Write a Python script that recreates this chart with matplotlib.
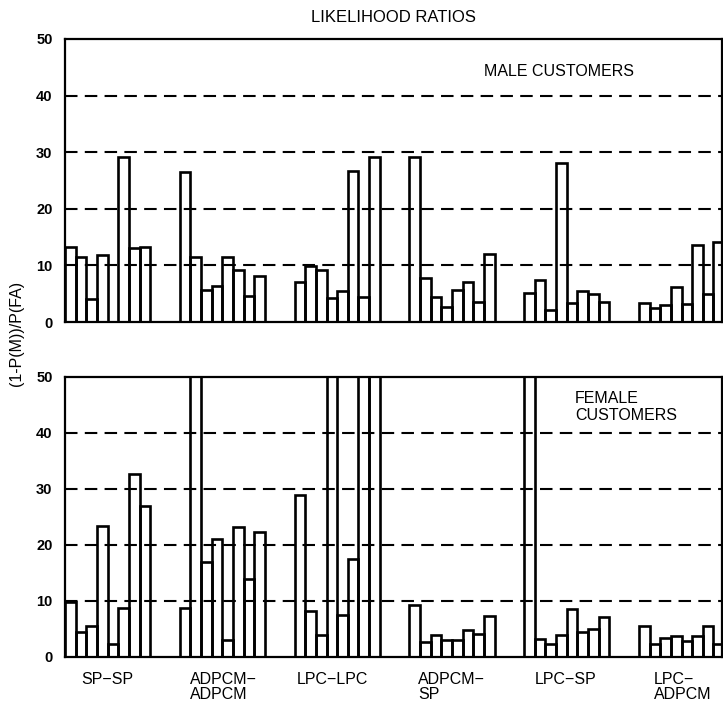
import matplotlib
matplotlib.use("Agg")
import matplotlib.pyplot as plt
import matplotlib.transforms as mtransforms

plt.rcParams['font.family'] = ['Liberation Sans', 'DejaVu Sans']

# Coder pairs (training-test), eight speakers each
pairs = ["SP\u2212SP", "ADPCM\u2212\nADPCM", "LPC\u2212LPC",
         "ADPCM\u2212\nSP", "LPC\u2212SP", "LPC\u2212\nADPCM"]

# (1-P(M))/P(FA) for male customers
male_sp_sp = [13.2, 11.5, 4.0, 11.8, 0.0, 29.1, 13.0, 13.3]
male_adpcm_adpcm = [26.5, 11.4, 5.6, 6.4, 11.4, 9.2, 4.6, 8.2]
male_lpc_lpc = [7.0, 9.9, 9.2, 4.3, 5.4, 26.7, 4.4, 29.1]
male_adpcm_sp = [29.1, 7.7, 4.4, 2.7, 5.7, 7.0, 3.6, 12.0]
male_lpc_sp = [5.2, 7.4, 2.1, 28.1, 3.3, 5.4, 5.0, 3.6]
male_lpc_adpcm = [3.3, 2.4, 3.0, 6.2, 3.1, 13.6, 5.0, 14.2]

# (1-P(M))/P(FA) for female customers (values above 50 run off the scale)
female_sp_sp = [9.9, 4.5, 5.6, 23.4, 2.4, 8.8, 32.6, 27.0]
female_adpcm_adpcm = [8.7, 60.0, 16.9, 21.1, 3.0, 23.3, 14.0, 22.3]
female_lpc_lpc = [29.0, 8.3, 4.0, 60.0, 7.5, 17.5, 60.0, 60.0]
female_adpcm_sp = [9.2, 2.6, 3.9, 3.1, 3.1, 4.9, 4.1, 7.4]
female_lpc_sp = [60.0, 3.2, 2.4, 3.9, 8.6, 4.5, 5.0, 7.1]
female_lpc_adpcm = [5.5, 2.4, 3.4, 3.7, 2.8, 3.7, 5.5, 2.4]

yticks = [0, 10, 20, 30, 40, 50]

male = [male_sp_sp, male_adpcm_adpcm, male_lpc_lpc,
        male_adpcm_sp, male_lpc_sp, male_lpc_adpcm]
female = [female_sp_sp, female_adpcm_adpcm, female_lpc_lpc,
          female_adpcm_sp, female_lpc_sp, female_lpc_adpcm]

GROUP_STEP = 10.78
label_shift = [1.5, 0.95, 0.2, 0.85, 0.95, 1.4]

W, H = 723, 704
fig = plt.figure(figsize=(W / 100, H / 100), dpi=100)

left = 65 / W
width = (722 - 65) / W
ax_top = fig.add_axes([left, 1 - 322 / H, width, (322 - 39) / H])
ax_bot = fig.add_axes([left, 1 - 657 / H, width, (657 - 377) / H])


def draw_panel(ax, groups):
    for g, vals in enumerate(groups):
        x0 = g * GROUP_STEP
        xs = [x0 + i for i in range(len(vals))]
        ax.bar(xs, vals, width=1.0, align='edge', fill=False,
               edgecolor='black', linewidth=1.9, zorder=3)
    for yv in yticks[1:-1]:
        ax.axhline(yv, color='black', linewidth=1.5,
                   linestyle=(0, (6, 3.5)), zorder=2)
    ax.set_xlim(0, 61.7)
    ax.set_ylim(0, 50)
    ax.set_yticks(yticks)
    ax.set_yticklabels([str(v) for v in yticks], fontsize=10.5,
                       fontweight='bold')
    ax.tick_params(axis='y', length=0, pad=9)
    ax.set_xticks([])
    for s in ax.spines.values():
        s.set_linewidth(1.6)


draw_panel(ax_top, male)
draw_panel(ax_bot, female)

ax_top.text(46.4, 44.3, "MALE CUSTOMERS", fontsize=11.5,
            ha='center', va='center')
ax_bot.text(47.9, 44.6, "FEMALE\nCUSTOMERS", fontsize=11.5,
            ha='left', va='center', linespacing=1.2)

trans = mtransforms.blended_transform_factory(ax_bot.transData,
                                              ax_bot.transAxes)
for g, name in enumerate(pairs):
    ax_bot.text(g * GROUP_STEP + label_shift[g], -0.052, name,
                transform=trans, fontsize=11.5, ha='left', va='top',
                multialignment='left', linespacing=1.0)

fig.text(393 / W, 1 - 18 / H, "LIKELIHOOD RATIOS", fontsize=12,
         ha='center', va='center')
fig.text(17 / W, 1 - 333 / H, "(1-P(M))/P(FA)", fontsize=11.5,
         rotation=90, ha='center', va='center')

fig.savefig("out.png", dpi=100)
